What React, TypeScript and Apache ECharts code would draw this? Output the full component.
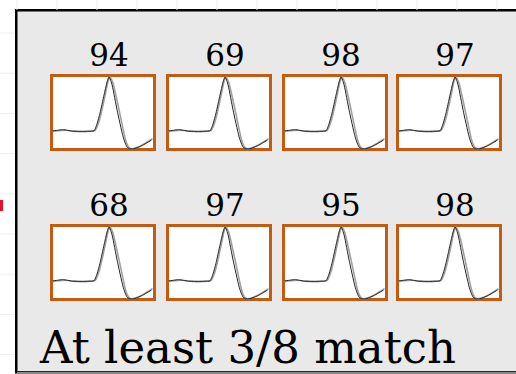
import React, { useEffect, useRef } from "react";
import * as echarts from "echarts";

// Match scores shown above each spike panel (row-major, 4 per row)
const scores = [94, 69, 98, 97, 68, 97, 95, 98];

// Template waveform (black trace), normalised 0..100 in both axes
const templateX = [0, 5, 10, 15, 20, 26, 31, 36, 41, 44, 47, 51, 54, 56, 59, 64, 70, 73.5, 76.5, 80, 88, 98];
const templateY = [24.7, 25.5, 26.4, 25.4, 24.2, 24, 24, 24.2, 24.7, 34, 49, 74, 92, 99, 88, 53, 16, 3, 0, 0, 4, 12];

// Candidate spike waveform (grey trace)
const spikeX = [0, 6, 12, 20, 28, 36, 42, 45, 48, 52, 55, 57, 60, 66, 72, 75, 78, 82, 90, 99];
const spikeY = [23.5, 24.8, 25.5, 24.5, 23.6, 24, 25, 33, 48, 73, 93, 99, 90, 53, 14, 3, 0, 1, 6, 14];

const colLefts = [50, 166, 282, 396];
const rowTops = [74, 224];
const boxW = 106;
const boxH = 77;
const border = 3;

export default function App() {
  const ref = useRef<HTMLDivElement>(null);

  useEffect(() => {
    if (!ref.current) return;
    const chart = echarts.init(ref.current, null, { renderer: "svg" });

    const grids: any[] = [];
    const xAxes: any[] = [];
    const yAxes: any[] = [];
    const series: any[] = [];
    const labels: any[] = [];

    const templateData = templateX.map((x, i) => [x, templateY[i]]);
    const spikeData = spikeX.map((x, i) => [x, spikeY[i]]);

    scores.forEach((score, i) => {
      const L = colLefts[i % 4];
      const T = rowTops[Math.floor(i / 4)];
      grids.push({
        left: L + border / 2,
        top: T + border / 2,
        width: boxW - border,
        height: boxH - border,
        show: true,
        backgroundColor: "#ffffff",
        borderColor: "#C55A11",
        borderWidth: border,
      });
      xAxes.push({
        type: "value",
        gridIndex: i,
        min: -1,
        max: 101,
        show: false,
      });
      yAxes.push({
        type: "value",
        gridIndex: i,
        min: -1,
        max: 101,
        show: false,
      });
      series.push({
        type: "line",
        xAxisIndex: i,
        yAxisIndex: i,
        data: spikeData,
        smooth: 0.2,
        symbol: "none",
        lineStyle: { color: "#a0a0a0", width: 1.6 },
        z: 2,
      });
      series.push({
        type: "line",
        xAxisIndex: i,
        yAxisIndex: i,
        data: templateData,
        smooth: 0.2,
        symbol: "none",
        lineStyle: { color: "#222222", width: 1 },
        z: 3,
      });
      labels.push({
        type: "text",
        x: L + 59,
        y: T - 4,
        z: 10,
        style: {
          text: String(score),
          fill: "#000000",
          font: '31px "DejaVu Serif"',
          textAlign: "center",
          textVerticalAlign: "bottom",
        },
      });
    });

    // Faint slide gridlines behind the panel
    const bgLines: any[] = [];
    for (let x = 17; x <= 516; x += 40) {
      bgLines.push({
        type: "line",
        shape: { x1: x, y1: 0, x2: x, y2: 10 },
        style: { stroke: "#eeeeee", lineWidth: 1 },
        z: 0,
      });
    }
    for (let y = 33; y <= 374; y += 40.2) {
      bgLines.push({
        type: "line",
        shape: { x1: 0, y1: y, x2: 15, y2: y },
        style: { stroke: "#eeeeee", lineWidth: 1 },
        z: 0,
      });
    }

    chart.setOption({
      animation: false,
      backgroundColor: "#ffffff",
      grid: grids,
      xAxis: xAxes,
      yAxis: yAxes,
      series,
      graphic: [
        ...bgLines,
        {
          type: "rect",
          shape: { x: 16.25, y: 10.25, width: 540, height: 362 },
          style: { fill: "#e9e9e9", stroke: "#000000", lineWidth: 2.5 },
          z: -10,
        },
        {
          type: "line",
          shape: { x1: 17, y1: 372.5, x2: 516, y2: 372.5 },
          style: { stroke: "#8c8c8c", lineWidth: 1.5 },
          z: 1,
        },
        {
          type: "rect",
          shape: { x: 0, y: 200, width: 3, height: 11 },
          style: { fill: "#e8112d" },
          z: 1,
        },
        ...labels,
        {
          type: "text",
          x: 40,
          y: 370,
          z: 10,
          style: {
            text: "At least 3/8 match",
            fill: "#000000",
            font: '45px "DejaVu Serif"',
            lineHeight: 45,
            textAlign: "left",
            textVerticalAlign: "bottom",
          },
        },
      ],
    });

    return () => chart.dispose();
  }, []);

  return (
    <div
      ref={ref}
      style={{ position: "absolute", left: 0, top: 0, width: 516, height: 374 }}
    />
  );
}
